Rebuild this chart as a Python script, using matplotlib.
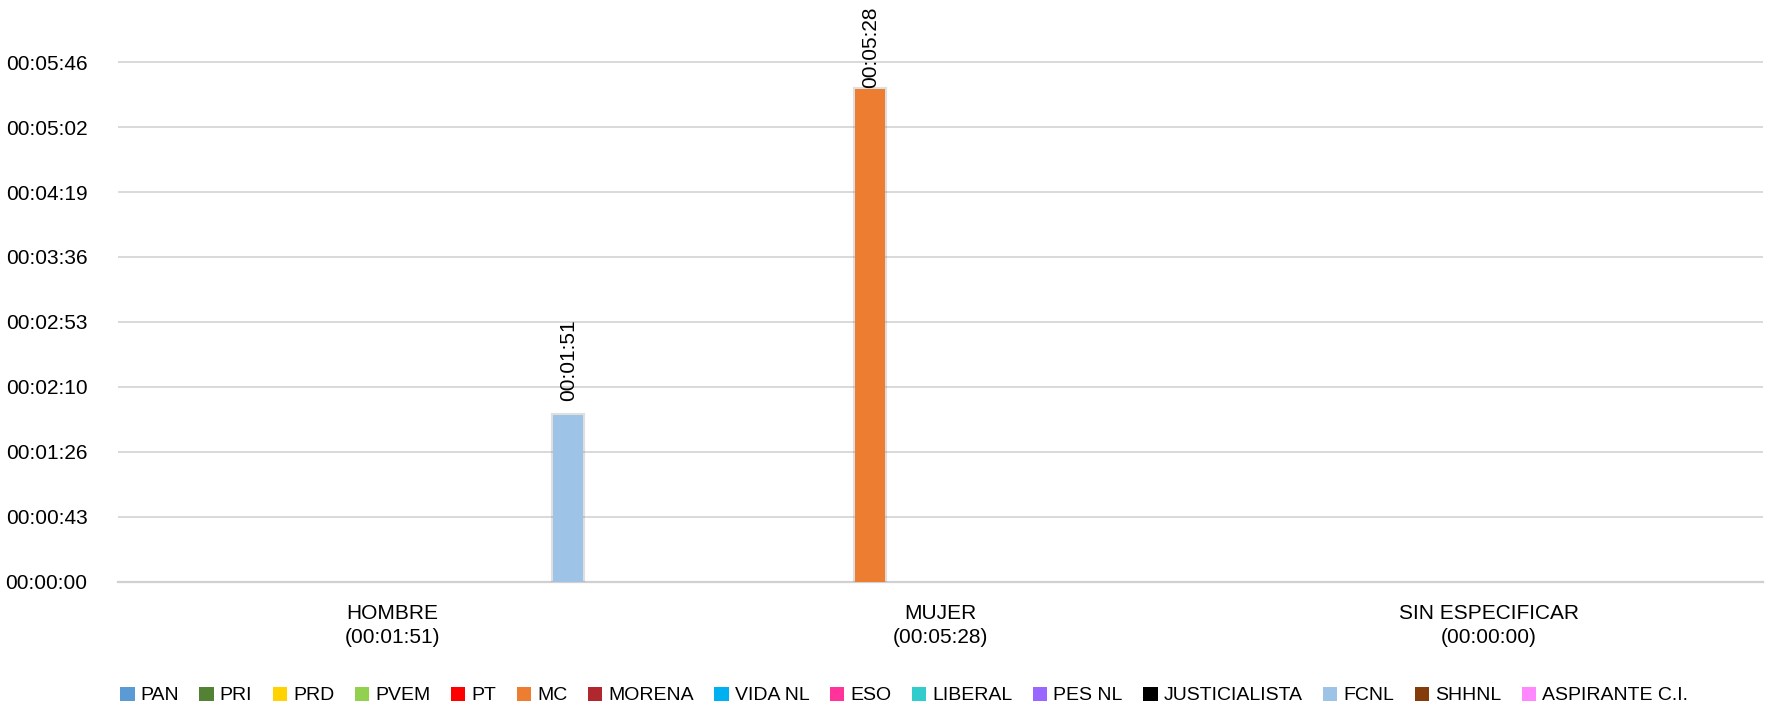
import matplotlib
matplotlib.use("Agg")
import matplotlib.pyplot as plt
import matplotlib.patheffects as pe
from matplotlib.ticker import MultipleLocator, FuncFormatter
from matplotlib.patches import Patch
import numpy as np

plt.rcParams['font.family'] = ['Liberation Sans', 'DejaVu Sans']

# categories (gender) and parties
categories = ['HOMBRE', 'MUJER', 'SIN ESPECIFICAR']
parties = ['PAN', 'PRI', 'PRD', 'PVEM', 'PT', 'MC', 'MORENA', 'VIDA NL', 'ESO',
           'LIBERAL', 'PES NL', 'JUSTICIALISTA', 'FCNL', 'SHHNL', 'ASPIRANTE C.I.']
party_colors = ['#5b9bd5', '#548235', '#ffd200', '#92d050', '#ff0000', '#ed7d31',
                '#b0272d', '#00b0f0', '#ff3399', '#33cccc', '#9966ff', '#000000',
                '#9dc3e6', '#843c0c', '#ff88ff']

# seconds per party, for each category (same order as parties)
hombre = [0, 0, 0, 0, 0, 0, 0, 0, 0, 0, 0, 0, 111, 0, 0]
mujer = [0, 0, 0, 0, 0, 328, 0, 0, 0, 0, 0, 0, 0, 0, 0]
sin_especificar = [0, 0, 0, 0, 0, 0, 0, 0, 0, 0, 0, 0, 0, 0, 0]
values = [hombre, mujer, sin_especificar]


def hms(s, pos=None):
    s = int(round(s))
    return f"{s // 3600:02d}:{(s % 3600) // 60:02d}:{s % 60:02d}"


fig = plt.figure(figsize=(17.69, 7.05), dpi=100)
ax = fig.add_axes([0.0667, 0.175, 0.93, 0.825])

slot = 0.0642
width = 0.0545
ytop = 387.0

for j, party in enumerate(parties):
    xs = np.arange(len(categories)) + (j - 7) * slot
    hs = [values[i][j] for i in range(len(categories))]
    bars = ax.bar(xs, hs, width=width, color=party_colors[j], zorder=3)
    for b, h in zip(bars, hs):
        if h <= 0:
            continue
        b.set_path_effects([pe.Stroke(linewidth=3, foreground='#808080', alpha=0.25),
                            pe.Normal()])
        cx = b.get_x() + b.get_width() / 2
        if h + 63 > ytop:
            ax.annotate(hms(h), (cx, ytop), xytext=(0, -5), textcoords='offset points',
                        rotation=90, ha='center', va='top', fontsize=15, zorder=4)
        else:
            ax.annotate(hms(h), (cx, h), xytext=(0, 10), textcoords='offset points',
                        rotation=90, ha='center', va='bottom', fontsize=15, zorder=4)

ax.set_xlim(-0.5, len(categories) - 0.5)
ax.set_ylim(0, ytop)
ax.yaxis.set_major_locator(MultipleLocator(43.2))
ax.yaxis.set_major_formatter(FuncFormatter(hms))
ax.grid(axis='y', color='#d9d9d9', linewidth=1.4, zorder=0)
ax.set_axisbelow(True)

totals = [sum(v) for v in values]
ax.set_xticks(np.arange(len(categories)))
ax.set_xticklabels([f"{c}\n({hms(t)})" for c, t in zip(categories, totals)],
                   fontsize=15, linespacing=1.35)
ax.tick_params(axis='x', length=0, pad=16)
ax.tick_params(axis='y', length=0, pad=22, labelsize=15)

for side in ['top', 'right', 'left']:
    ax.spines[side].set_visible(False)
ax.spines['bottom'].set_color('#d0d0d0')
ax.spines['bottom'].set_linewidth(1.6)

handles = [Patch(facecolor=c, edgecolor='none', label=p) for p, c in zip(parties, party_colors)]
fig.legend(handles=handles, loc='center', bbox_to_anchor=(0.511, 0.0135), ncol=len(parties),
           frameon=False, fontsize=14, handlelength=0.75, handleheight=0.75,
           handletextpad=0.3, columnspacing=1.05, borderpad=0)

fig.savefig('out.png', dpi=100)
